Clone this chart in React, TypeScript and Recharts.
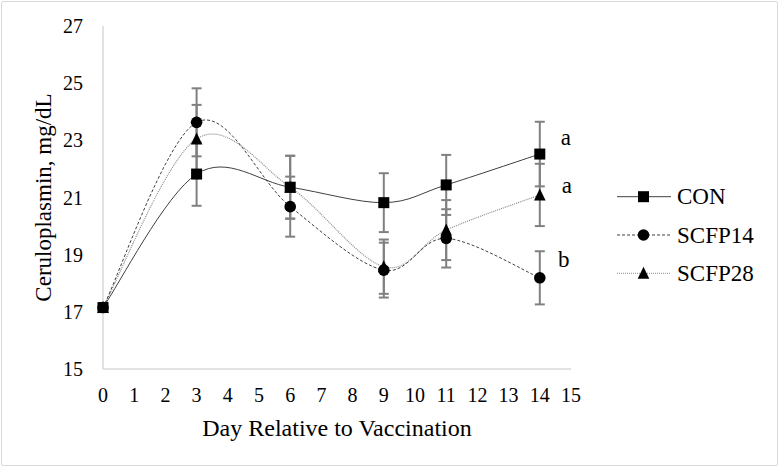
import React from 'react';
import { LineChart, Line, XAxis, YAxis, ErrorBar, Legend, LabelList } from 'recharts';

const days = [0, 3, 6, 9, 11, 14];
const conValues = [17.15, 21.82, 21.36, 20.82, 21.44, 22.52];
const conSE = [0, 1.11, 1.1, 1.03, 1.05, 1.13];
const scfp14Values = [17.15, 23.63, 20.68, 18.46, 19.57, 18.19];
const scfp14SE = [0, 1.19, 1.05, 0.96, 1.02, 0.93];
const scfp28Values = [17.15, 23.05, 21.36, 18.58, 19.86, 21.09];
const scfp28SE = [0, 1.19, 1.1, 0.95, 1.05, 1.09];
const conLetters = ['', '', '', '', '', 'a'];
const scfp14Letters = ['', '', '', '', '', 'b'];
const scfp28Letters = ['', '', '', '', '', 'a'];
const seriesNames = ['CON', 'SCFP14', 'SCFP28'];
const xTicks = [0, 1, 2, 3, 4, 5, 6, 7, 8, 9, 10, 11, 12, 13, 14, 15];
const yTicks = [15, 17, 19, 21, 23, 25, 27];

const data = days.map((d, i) => ({
  day: d,
  con: conValues[i],
  conErr: conSE[i],
  conSig: conLetters[i],
  s14: scfp14Values[i],
  s14Err: scfp14SE[i],
  s14Sig: scfp14Letters[i],
  s28: scfp28Values[i],
  s28Err: scfp28SE[i],
  s28Sig: scfp28Letters[i],
}));

const FONT = '"Liberation Serif", "Times New Roman", serif';
const textStyle = { fontFamily: FONT };

// Excel-like smoothed line (Catmull-Rom style Bezier)
const excelCurve: any = (context: any) => {
  let pts: number[][] = [];
  return {
    areaStart() {},
    areaEnd() {},
    lineStart() {
      pts = [];
    },
    lineEnd() {
      const n = pts.length;
      if (n === 0) return;
      context.moveTo(pts[0][0], pts[0][1]);
      for (let i = 0; i < n - 1; i++) {
        const p0 = pts[i - 1] || pts[i];
        const p1 = pts[i];
        const p2 = pts[i + 1];
        const p3 = pts[i + 2] || p2;
        context.bezierCurveTo(
          p1[0] + (p2[0] - p0[0]) / 6,
          p1[1] + (p2[1] - p0[1]) / 6,
          p2[0] - (p3[0] - p1[0]) / 6,
          p2[1] - (p3[1] - p1[1]) / 6,
          p2[0],
          p2[1]
        );
      }
    },
    point(x: number, y: number) {
      pts.push([+x, +y]);
    },
  };
};

const SquareMark = (cx: number, cy: number, key?: any) => (
  <rect key={key} x={cx - 5.5} y={cy - 5.5} width={11} height={11} fill="#000" />
);
const CircleMark = (cx: number, cy: number, key?: any) => (
  <circle key={key} cx={cx} cy={cy} r={5.8} fill="#000" />
);
const TriangleMark = (cx: number, cy: number, key?: any) => (
  <polygon
    key={key}
    points={`${cx},${cy - 6.5} ${cx - 5.8},${cy + 5.5} ${cx + 5.8},${cy + 5.5}`}
    fill="#000"
  />
);

const makeDot = (fn: (cx: number, cy: number, key?: any) => React.ReactElement) => (props: any) => {
  const { cx, cy, index } = props;
  if (cx == null || cy == null) return <g key={`d-${index}`} />;
  return fn(cx, cy, `d-${index}`);
};

const sigLabel = (dx: number, dy: number) => (props: any) => {
  const { x, y, value, index } = props;
  if (!value) return null;
  return (
    <text
      key={`s-${index}`}
      x={x + dx}
      y={y + dy}
      textAnchor="middle"
      dominantBaseline="central"
      style={textStyle}
      fontSize={23}
      fill="#000"
    >
      {value}
    </text>
  );
};

const legendStyles = [
  { stroke: '#404040', dash: undefined, mark: SquareMark },
  { stroke: '#404040', dash: '3 2', mark: CircleMark },
  { stroke: '#8c8c8c', dash: '1 1', mark: TriangleMark },
];

const renderLegend = () => (
  <svg width={170} height={120} style={{ display: 'block' }}>
    {seriesNames.map((name, i) => {
      const y = 21.7 + i * 38.3;
      const st = legendStyles[i];
      return (
        <g key={name}>
          <line x1={7} x2={61} y1={y} y2={y} stroke={st.stroke} strokeWidth={1} strokeDasharray={st.dash} />
          {st.mark(33.5, y)}
          <text x={67} y={y} dominantBaseline="central" style={textStyle} fontSize={23} fill="#000">
            {name}
          </text>
        </g>
      );
    })}
  </svg>
);

export default function App() {
  return (
    <div style={{ position: 'absolute', left: 0, top: 0, width: 781, height: 470, background: '#fff' }}>
      <div
        style={{
          position: 'absolute',
          left: 1,
          top: 1,
          width: 775,
          height: 463,
          border: '1.5px solid #d9d9d9',
          borderRadius: 2,
        }}
      />
      <LineChart
        width={781}
        height={470}
        data={data}
        margin={{ top: 26, right: 210, bottom: 51, left: 0 }}
        style={{ position: 'absolute', left: 0, top: 0 }}
      >
        <XAxis
          dataKey="day"
          type="number"
          domain={[0, 15]}
          ticks={xTicks}
          interval={0}
          height={50}
          tickLine={false}
          tickMargin={13}
          axisLine={{ stroke: '#d9d9d9', strokeWidth: 1.5 }}
          tick={{ fontFamily: FONT, fontSize: 20, fill: '#000', style: textStyle }}
          label={{
            value: 'Day Relative to Vaccination',
            position: 'bottom',
            offset: 0,
            style: { fontFamily: FONT, fontSize: 24, fill: '#000' },
          }}
        />
        <YAxis
          type="number"
          domain={[15, 27]}
          ticks={yTicks}
          interval={0}
          width={103}
          tickLine={false}
          tickMargin={14}
          axisLine={{ stroke: '#d9d9d9', strokeWidth: 1.5 }}
          tick={{ fontFamily: FONT, fontSize: 20, fill: '#000', style: textStyle }}
          label={{
            value: 'Ceruloplasmin, mg/dL',
            angle: -90,
            position: 'insideLeft',
            offset: 43,
            style: { fontFamily: FONT, fontSize: 23, fill: '#000', textAnchor: 'middle' },
          }}
        />
        <Line
          dataKey="s28"
          name="SCFP28"
          type={excelCurve}
          stroke="#8c8c8c"
          strokeWidth={1.2}
          strokeDasharray="1 1"
          dot={makeDot(TriangleMark)}
          activeDot={false}
          isAnimationActive={false}
        >
          <ErrorBar dataKey="s28Err" width={5} stroke="#808080" strokeWidth={2} direction="y" />
          <LabelList dataKey="s28Sig" content={sigLabel(27, -9)} />
        </Line>
        <Line
          dataKey="s14"
          name="SCFP14"
          type={excelCurve}
          stroke="#404040"
          strokeWidth={1}
          strokeDasharray="3 2"
          dot={makeDot(CircleMark)}
          activeDot={false}
          isAnimationActive={false}
        >
          <ErrorBar dataKey="s14Err" width={5} stroke="#808080" strokeWidth={2} direction="y" />
          <LabelList dataKey="s14Sig" content={sigLabel(24, -18)} />
        </Line>
        <Line
          dataKey="con"
          name="CON"
          type={excelCurve}
          stroke="#404040"
          strokeWidth={1}
          dot={makeDot(SquareMark)}
          activeDot={false}
          isAnimationActive={false}
        >
          <ErrorBar dataKey="conErr" width={5} stroke="#808080" strokeWidth={2} direction="y" />
          <LabelList dataKey="conSig" content={sigLabel(26, -17)} />
        </Line>
        <Legend
          layout="vertical"
          verticalAlign="middle"
          align="center"
          wrapperStyle={{ left: 610, top: 175, width: 170 }}
          content={renderLegend}
        />
      </LineChart>
    </div>
  );
}
